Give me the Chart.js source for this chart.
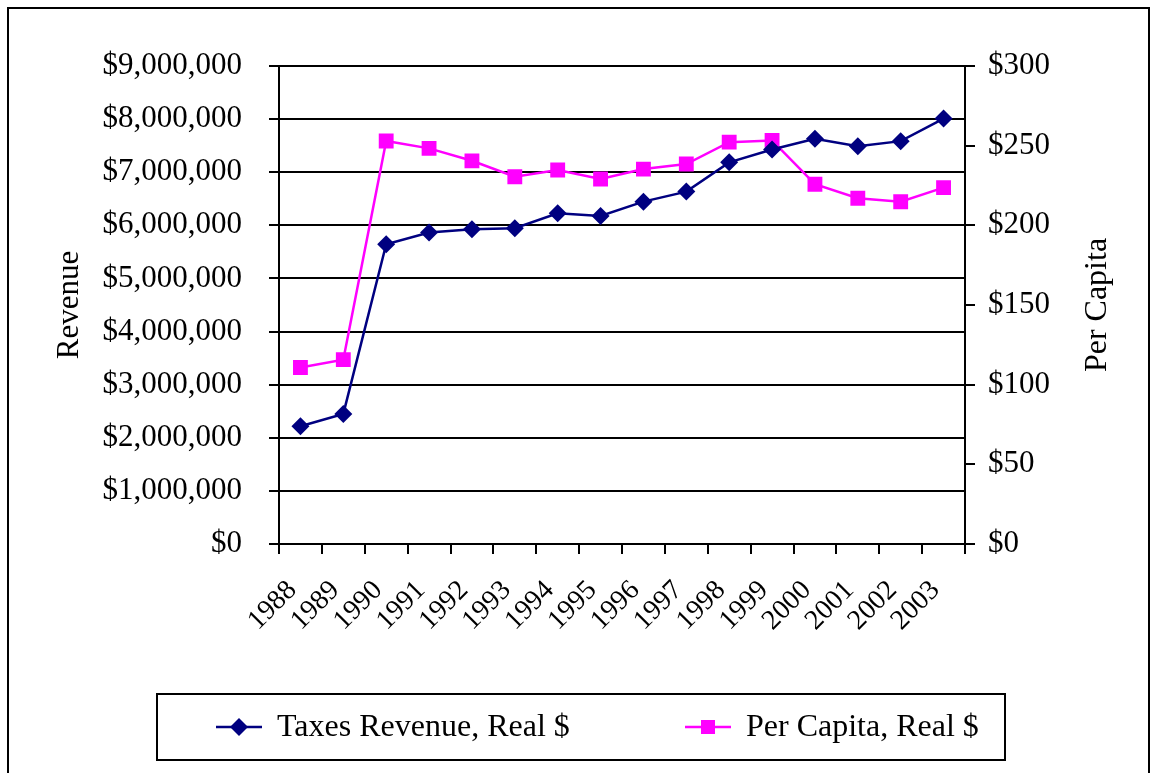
<!DOCTYPE html>
<html>
<head>
<meta charset="utf-8">
<script src="https://cdn.jsdelivr.net/npm/chart.js@4.4.1/dist/chart.umd.min.js"></script>
<style>
  html, body { margin: 0; padding: 0; background: #fff; }
  #wrap { width: 1154px; height: 773px; position: relative; }
</style>
</head>
<body>
<div id="wrap"><canvas id="revChart"></canvas></div>
<script>
const years = ['1988','1989','1990','1991','1992','1993','1994','1995','1996','1997','1998','1999','2000','2001','2002','2003'];
const taxesRevenue = [2216000, 2449000, 5645000, 5863000, 5927000, 5945000, 6227000, 6177000, 6446000, 6635000, 7186000, 7427000, 7630000, 7490000, 7585000, 8010000];
const perCapita = [110.8, 115.7, 252.9, 248.3, 240.5, 230.5, 234.7, 229.1, 235.3, 238.5, 252.2, 253.3, 225.8, 217.0, 214.8, 223.7];
const revenueTicks = [0, 1000000, 2000000, 3000000, 4000000, 5000000, 6000000, 7000000, 8000000, 9000000];
const perCapitaTicks = [0, 50, 100, 150, 200, 250, 300];

const NAVY = '#000080';
const MAGENTA = '#FF00FF';
const SERIF = '"Liberation Serif", "Times New Roman", serif';

const money = v => '$' + Math.round(v).toLocaleString('en-US');

// frame around the chart, legend box + legend, right axis title (reads bottom-up like the original)
const decor = {
    id: 'decor',
    afterDraw(chart) {
        const c = chart.ctx;
        c.save();
        c.strokeStyle = '#000';
        c.lineWidth = 2;
        c.strokeRect(8, 8, 1141, 800);

        // legend box
        c.strokeRect(157, 694, 848, 66);
        const items = [
            { ds: chart.data.datasets[0], x: 216 },
            { ds: chart.data.datasets[1], x: 685 }
        ];
        const ly = 727;
        c.font = '32px ' + SERIF;
        c.textBaseline = 'middle';
        items.forEach(it => {
            c.strokeStyle = it.ds.borderColor;
            c.lineWidth = 2.5;
            c.beginPath();
            c.moveTo(it.x, ly);
            c.lineTo(it.x + 46, ly);
            c.stroke();
            c.fillStyle = it.ds.backgroundColor;
            const mx = it.x + 23;
            if (it.ds.pointStyle === 'rectRot') {
                c.beginPath();
                c.moveTo(mx, ly - 9);
                c.lineTo(mx + 9, ly);
                c.lineTo(mx, ly + 9);
                c.lineTo(mx - 9, ly);
                c.closePath();
                c.fill();
            } else {
                c.fillRect(mx - 7, ly - 7, 14, 14);
            }
            c.fillStyle = '#000';
            c.fillText(it.ds.label, it.x + 61, ly + 1);
        });

        // right axis title
        const y1 = chart.scales.y1;
        c.translate(1098, (y1.top + y1.bottom) / 2);
        c.rotate(-Math.PI / 2);
        c.textAlign = 'center';
        c.font = '32px ' + SERIF;
        c.fillText('Per Capita', 0, 0);
        c.restore();
    }
};

const ctx = document.getElementById('revChart').getContext('2d');

new Chart(ctx, {
    type: 'line',
    data: {
        labels: years,
        datasets: [{
            label: 'Taxes Revenue, Real $',
            data: taxesRevenue,
            yAxisID: 'y',
            borderColor: NAVY,
            backgroundColor: NAVY,
            borderWidth: 2.5,
            pointStyle: 'rectRot',
            pointRadius: 9,
            pointHoverRadius: 9,
            pointBorderWidth: 0,
            tension: 0
        }, {
            label: 'Per Capita, Real $',
            data: perCapita,
            yAxisID: 'y1',
            borderColor: MAGENTA,
            backgroundColor: MAGENTA,
            borderWidth: 2.5,
            pointStyle: 'rect',
            pointRadius: 10.5,
            pointHoverRadius: 10.5,
            pointBorderWidth: 0,
            tension: 0
        }]
    },
    options: {
        responsive: true,
        maintainAspectRatio: false,
        animation: false,
        layout: {
            padding: { left: 51, right: 39, top: 66, bottom: 93 }
        },
        plugins: {
            legend: { display: false },
            tooltip: { enabled: false }
        },
        scales: {
            x: {
                offset: true,
                grid: {
                    offset: true,
                    drawOnChartArea: false,
                    drawTicks: true,
                    tickLength: 10,
                    color: '#000',
                    lineWidth: 2
                },
                border: { color: '#000', width: 2 },
                ticks: {
                    color: '#000',
                    font: { family: SERIF, size: 28 },
                    minRotation: 45,
                    maxRotation: 45,
                    autoSkip: false,
                    padding: 20,
                    labelOffset: -8
                },
                afterFit(scale) { scale.height = 136; }
            },
            y: {
                position: 'left',
                min: 0,
                max: 9000000,
                afterBuildTicks(scale) { scale.ticks = revenueTicks.map(v => ({ value: v })); },
                afterFit(scale) { scale.width = 279 - 51; },
                grid: {
                    color: '#000',
                    lineWidth: 2,
                    tickLength: 10
                },
                border: { color: '#000', width: 2 },
                ticks: {
                    color: '#000',
                    font: { family: SERIF, size: 31 },
                    padding: 27,
                    callback: v => money(v)
                },
                title: {
                    display: true,
                    text: 'Revenue',
                    color: '#000',
                    font: { family: SERIF, size: 31 },
                    padding: 0
                }
            },
            y1: {
                position: 'right',
                min: 0,
                max: 300,
                afterBuildTicks(scale) { scale.ticks = perCapitaTicks.map(v => ({ value: v })); },
                afterFit(scale) { scale.width = 1115 - 965; },
                grid: {
                    drawOnChartArea: false,
                    color: '#000',
                    lineWidth: 2,
                    tickLength: 10
                },
                border: { color: '#000', width: 2 },
                ticks: {
                    color: '#000',
                    font: { family: SERIF, size: 31 },
                    padding: 13,
                    callback: v => money(v)
                }
            }
        }
    },
    plugins: [decor]
});
</script>
</body>
</html>
